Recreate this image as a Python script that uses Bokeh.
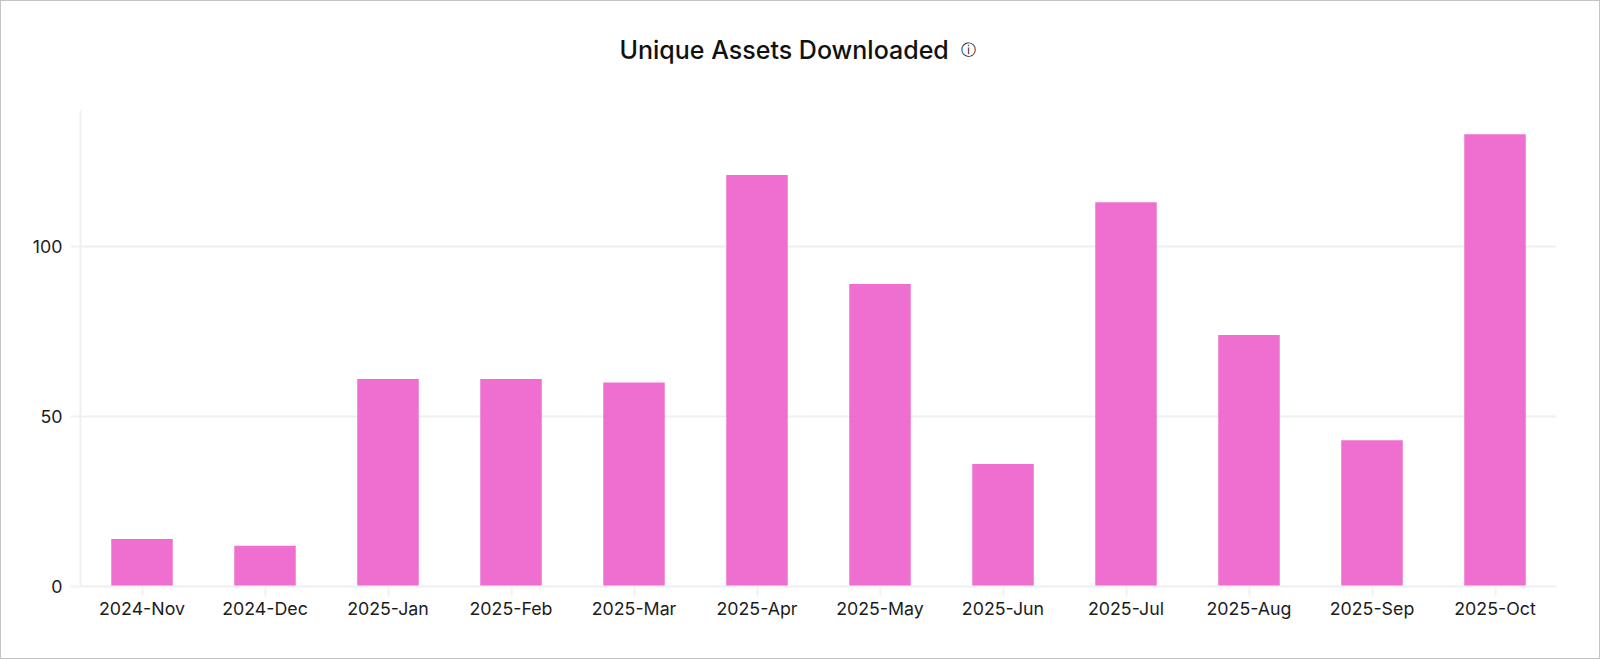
from bokeh.plotting import figure
from bokeh.models import Range1d, FactorRange, Title
from bokeh.embed import file_html
from bokeh.resources import INLINE

months = ["2024-Nov","2024-Dec","2025-Jan","2025-Feb","2025-Mar","2025-Apr","2025-May","2025-Jun","2025-Jul","2025-Aug","2025-Sep","2025-Oct"]
assets = [14,12,61,61,60,121,89,36,113,74,43,133]
y_ticks = [0,50,100]
title_text = "Unique Assets Downloaded"
info_icon = "\u24d8"

W, H = 1600, 659
FL, FR, FT, FB = 79, 1555, 109, 585
p = figure(width=W, height=H, x_range=FactorRange(factors=months, range_padding=0),
           y_range=Range1d(0,140), output_backend="svg", toolbar_location=None,
           min_border_left=FL, min_border_right=W-FR,
           min_border_top=FT, min_border_bottom=H-FB,
           styles={"border":"1px solid #c4c4c4","box-sizing":"border-box"})
p.background_fill_color="white"; p.border_fill_color="white"; p.outline_line_color=None
p.xgrid.grid_line_color=None
p.ygrid.grid_line_color="#f0f0f0"; p.ygrid.grid_line_width=2; p.ygrid.ticker=y_ticks[1:]
p.vbar(x=months, top=assets, width=0.5, color="#ec5fcb", fill_alpha=0.9, line_color=None)

for ax in (p.xaxis[0], p.yaxis[0]):
    ax.axis_line_color="#efefef"; ax.axis_line_width=2
    ax.major_tick_line_color="#f2f2f2"; ax.major_tick_line_width=2
    ax.minor_tick_line_color=None
    ax.major_tick_in=0; ax.major_tick_out=10
    ax.major_label_text_font="Inter"; ax.major_label_text_font_size="17.8px"; ax.major_label_text_color="#1c1c1c"
p.yaxis[0].ticker=y_ticks
p.yaxis[0].major_label_standoff=8
p.xaxis[0].major_label_standoff=1

# Labels are clipped to the frame, so the heading sits in stacked titles above it.
p.add_layout(Title(text=" ", standoff=30, text_font_size="12px"), "above")
p.add_layout(Title(text=title_text, align="left", offset=539, standoff=0,
    text_font="Inter Medium", text_font_size="25px", text_color="#111111", text_font_style="normal"), "above")
p.add_layout(Title(text=info_icon, align="left", offset=880, standoff=-53,
    text_font="DejaVu Sans", text_font_size="15px", text_color="#222222", text_font_style="normal"), "above")

open("out.html","w").write(file_html(p, INLINE))
